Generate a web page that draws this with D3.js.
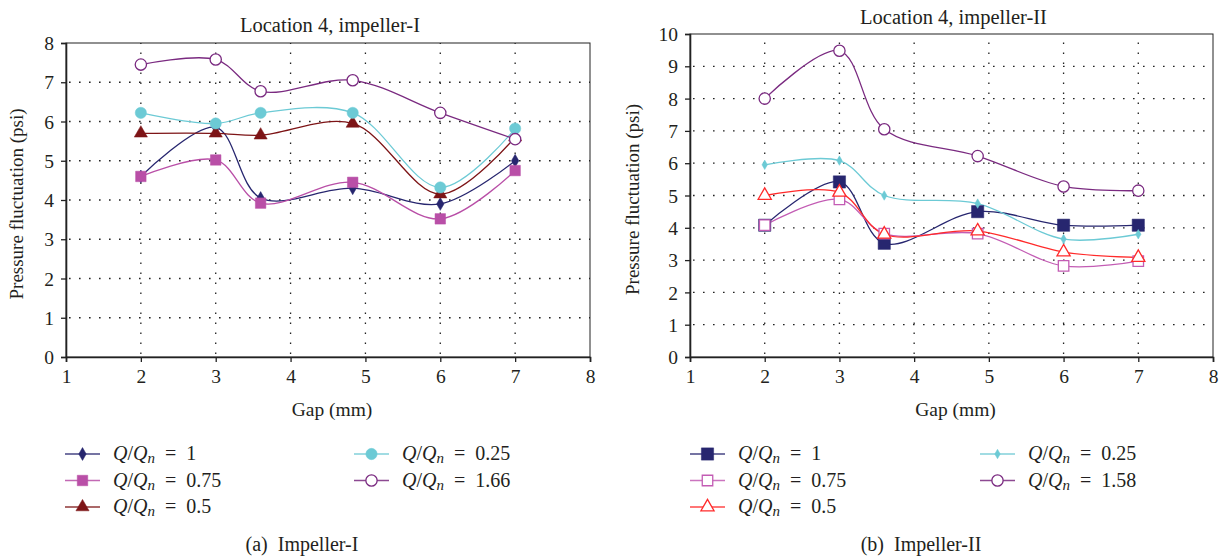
<!DOCTYPE html>
<html>
<head>
<meta charset="utf-8">
<script src="https://cdn.jsdelivr.net/npm/d3@7"></script>
<style>
body { margin: 0; background: #fff; }
</style>
</head>
<body>
<div id="chart"></div>
<script>
// gap positions (mm)
var gapsI = [2, 3, 3.6, 4.83, 6, 7];
var gapsII = [2, 3, 3.6, 4.85, 6, 7];

// impeller-I series
var i_q100 = [4.6, 5.85, 4.05, 4.3, 3.9, 5.0];
var i_q075 = [4.6, 5.02, 3.92, 4.45, 3.52, 4.75];
var i_q050 = [5.7, 5.7, 5.65, 5.95, 4.15, 5.6];
var i_q025 = [6.22, 5.95, 6.22, 6.22, 4.32, 5.82];
var i_q166 = [7.45, 7.58, 6.77, 7.05, 6.22, 5.55];

// impeller-II series
var ii_q100 = [4.08, 5.42, 3.52, 4.5, 4.08, 4.08];
var ii_q075 = [4.08, 4.88, 3.82, 3.82, 2.82, 2.97];
var ii_q050 = [5.0, 5.1, 3.8, 3.9, 3.25, 3.08];
var ii_q025 = [5.95, 6.08, 5.0, 4.75, 3.65, 3.8];
var ii_q158 = [8.0, 9.48, 7.05, 6.22, 5.28, 5.15];

var xTicks = [1, 2, 3, 4, 5, 6, 7, 8];
var yTicksI = [0, 1, 2, 3, 4, 5, 6, 7, 8];
var yTicksII = [0, 1, 2, 3, 4, 5, 6, 7, 8, 9, 10];

var FONT = "'Liberation Serif', 'Times New Roman', serif";
var INK = "#231f20";

var svg = d3.select("#chart").append("svg")
    .attr("width", 1224)
    .attr("height", 556)
    .attr("font-family", FONT);

var panels = [
  {
    title: "Location 4, impeller-I", caption: "(a)  Impeller-I",
    x0: 66, x1: 590, y0: 357, y1: 43, ymax: 8, yTicks: yTicksI, gaps: gapsI,
    titleY: 32, ylabX: 23, capX: 302,
    legendX: [65, 354],
    series: [
      {label: "1", values: i_q100, color: "#27266f", mark: "diamond", fill: true},
      {label: "0.75", values: i_q075, color: "#b94fa7", mark: "square", fill: true},
      {label: "0.5", values: i_q050, color: "#7d1416", mark: "triangle", fill: true},
      {label: "0.25", values: i_q025, color: "#6ccad5", mark: "circle", fill: true},
      {label: "1.66", values: i_q166, color: "#7a2a80", mark: "circle", fill: false}
    ]
  },
  {
    title: "Location 4, impeller-II", caption: "(b)  Impeller-II",
    x0: 690, x1: 1213, y0: 357, y1: 34, ymax: 10, yTicks: yTicksII, gaps: gapsII,
    titleY: 24, ylabX: 639, capX: 921,
    legendX: [690, 980],
    series: [
      {label: "1", values: ii_q100, color: "#27266f", mark: "bigsquare", fill: true},
      {label: "0.75", values: ii_q075, color: "#c35cb4", mark: "square", fill: false},
      {label: "0.5", values: ii_q050, color: "#ff2a2a", mark: "triangle", fill: false},
      {label: "0.25", values: ii_q025, color: "#6ccad5", mark: "smalldiamond", fill: true},
      {label: "1.58", values: ii_q158, color: "#7a2a80", mark: "circle", fill: false}
    ]
  }
];

function symbolPath(mark) {
  if (mark === "diamond") return d3.symbol(d3.symbolDiamond, 48)();
  if (mark === "smalldiamond") return d3.symbol(d3.symbolDiamond, 26)();
  if (mark === "square") return d3.symbol(d3.symbolSquare, 110)();
  if (mark === "bigsquare") return d3.symbol(d3.symbolSquare, 150)();
  if (mark === "triangle") return d3.symbol(d3.symbolTriangle, 75)();
  return d3.symbol(d3.symbolCircle, 100)();
}

function drawMark(g, s, x, y) {
  g.append("path")
    .attr("d", symbolPath(s.mark))
    .attr("transform", "translate(" + x + "," + y + ")")
    .attr("fill", s.fill ? s.color : "#fff")
    .attr("stroke", s.color)
    .attr("stroke-width", s.fill ? 0.5 : 1.3);
}

panels.forEach(function(p) {
  var x = d3.scaleLinear().domain([1, 8]).range([p.x0, p.x1]);
  var y = d3.scaleLinear().domain([0, p.ymax]).range([p.y0, p.y1]);
  var g = svg.append("g");

  // dotted grid
  g.selectAll(".hg").data(p.yTicks.slice(1, -1))
    .enter().append("line")
    .attr("x1", p.x0 + 3).attr("x2", p.x1)
    .attr("y1", d => y(d)).attr("y2", d => y(d))
    .attr("stroke", "#222").attr("stroke-width", 1.3)
    .attr("stroke-dasharray", "1.6,8.4");
  g.selectAll(".vg").data(xTicks.slice(1, -1))
    .enter().append("line")
    .attr("x1", d => x(d)).attr("x2", d => x(d))
    .attr("y1", p.y0 - 3).attr("y2", p.y1)
    .attr("stroke", "#222").attr("stroke-width", 1.3)
    .attr("stroke-dasharray", "1.6,8.4");

  // frame
  g.append("rect")
    .attr("x", p.x0).attr("y", p.y1)
    .attr("width", p.x1 - p.x0).attr("height", p.y0 - p.y1)
    .attr("fill", "none").attr("stroke", "#222").attr("stroke-width", 1);

  // axes
  var xa = g.append("g").attr("transform", "translate(0," + p.y0 + ")")
    .call(d3.axisBottom(x).tickValues(xTicks).tickSize(5).tickPadding(7).tickFormat(d3.format("d")));
  var ya = g.append("g").attr("transform", "translate(" + p.x0 + ",0)")
    .call(d3.axisLeft(y).tickValues(p.yTicks).tickSize(5).tickPadding(7).tickFormat(d3.format("d")));
  [xa, ya].forEach(function(a) {
    a.attr("font-family", FONT).attr("font-size", 19.5);
    a.select(".domain").attr("stroke", "#222").attr("stroke-width", 1.6);
    a.selectAll(".tick line").attr("stroke", "#222").attr("stroke-width", 1.3);
    a.selectAll("text").attr("fill", INK);
  });
  ya.selectAll("text").attr("dy", "0.34em");

  // title and axis labels
  g.append("text").attr("x", (p.x0 + p.x1) / 2 + 2).attr("y", p.titleY)
    .attr("text-anchor", "middle").attr("font-size", 20.5).attr("fill", INK).text(p.title);
  g.append("text").attr("x", (p.x0 + p.x1) / 2 + 4).attr("y", 416)
    .attr("text-anchor", "middle").attr("font-size", 19.5).attr("fill", INK).text("Gap (mm)");
  g.append("text")
    .attr("transform", "translate(" + p.ylabX + "," + ((p.y0 + p.y1) / 2 + 4) + ") rotate(-90)")
    .attr("text-anchor", "middle").attr("font-size", 19).attr("fill", INK)
    .text("Pressure fluctuation (psi)");

  // smoothed lines
  var line = d3.line()
    .x((d, i) => x(p.gaps[i]))
    .y(d => y(d))
    .curve(d3.curveCatmullRom.alpha(0.5));

  p.series.forEach(function(s) {
    g.append("path").datum(s.values)
      .attr("d", line)
      .attr("fill", "none")
      .attr("stroke", s.color)
      .attr("stroke-width", 1.3);
  });
  p.series.forEach(function(s) {
    s.values.forEach(function(v, i) {
      drawMark(g, s, x(p.gaps[i]), y(v));
    });
  });

  // legend
  p.series.forEach(function(s, i) {
    var col = i < 3 ? 0 : 1;
    var row = i < 3 ? i : i - 3;
    var lx = p.legendX[col], ly = 454 + row * 26.5;
    var lg = g.append("g");
    lg.append("line").attr("x1", lx).attr("x2", lx + 35)
      .attr("y1", ly).attr("y2", ly)
      .attr("stroke", s.color).attr("stroke-width", 1.6).attr("opacity", 0.85);
    drawMark(lg, s, lx + 17.5, ly);
    var t = lg.append("text").attr("x", lx + 48).attr("y", ly + 6)
      .attr("font-size", 20).attr("fill", INK);
    t.append("tspan").attr("font-style", "italic").text("Q");
    t.append("tspan").text("/");
    t.append("tspan").attr("font-style", "italic").text("Q");
    t.append("tspan").attr("font-style", "italic").attr("font-size", 15).attr("dy", 3).text("n");
    t.append("tspan").attr("dy", -3).attr("xml:space", "preserve").text("\u2002=\u2002" + s.label);
  });

  // caption
  g.append("text").attr("x", p.capX).attr("y", 551)
    .attr("text-anchor", "middle").attr("font-size", 20).attr("fill", INK)
    .attr("xml:space", "preserve").text(p.caption);
});
</script>
</body>
</html>
